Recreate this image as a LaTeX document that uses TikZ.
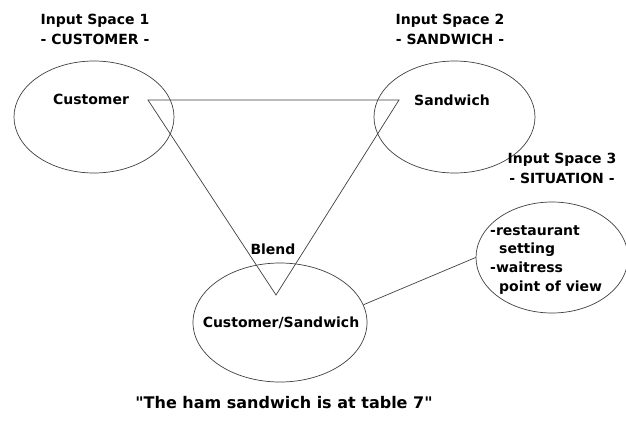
\documentclass[tikz,border=0pt]{standalone}
\usepackage{fontspec}
\setmainfont{DejaVu Sans}
\usetikzlibrary{shapes.geometric}
\begin{document}
\begin{tikzpicture}[x=1pt,y=-1pt,
  space/.style={draw=black!75,line width=0.7pt,ellipse,inner sep=0pt},
  link/.style={draw=black!75,line width=0.7pt},
  lbl/.style={font=\bfseries\fontsize{14}{20}\selectfont,inner sep=0pt,align=center},
  bodytext/.style={font=\bfseries\fontsize{14}{18.7}\selectfont,inner sep=0pt,align=left}]
\useasboundingbox (0,0) rectangle (626,423);
\clip (0,0) rectangle (626,423);
\fill[white] (0,0) rectangle (626,423);

% the four mental spaces
\node[space,minimum width=160,minimum height=112] (s1) at (94,117) {};
\node[space,minimum width=161,minimum height=112] (s2) at (454.5,117) {};
\node[space,minimum width=174,minimum height=119] (bl) at (280,322.5) {};
\node[space,minimum width=152,minimum height=111] (s3) at (552,257.5) {};

% headings
\node[lbl] (h1) at (95,29) {Input Space 1\\- CUSTOMER -};
\node[lbl] (h2) at (450,29) {Input Space 2\\- SANDWICH -};
\node[lbl] (h3) at (562,168) {Input Space 3\\- SITUATION -};

% contents
\node[lbl] (c1) at (91,99) {Customer};
\node[lbl] (c2) at (452,100) {Sandwich};
\node[lbl] (bt) at (273,249) {Blend};
\node[lbl] (cb) at (281,323) {Customer/Sandwich};
\node[bodytext,anchor=north west] (c3) at (490,225) {-restaurant\\\hspace*{9pt}setting\\-waitress\\\hspace*{9pt}point of view};

% projection triangle
\coordinate (t1) at (148,100);
\coordinate (t2) at (399,100);
\coordinate (t3) at (276,295);
\draw[link] (t1) -- (t2) -- (t3) -- cycle;

% situation link
\draw[link] (bl.12) -- (s3.west);

% caption
\node[lbl,font=\bfseries\fontsize{16}{20}\selectfont] (cap) at (284,403) {\textquotedbl The ham sandwich is at table 7\textquotedbl};
\end{tikzpicture}
\end{document}
